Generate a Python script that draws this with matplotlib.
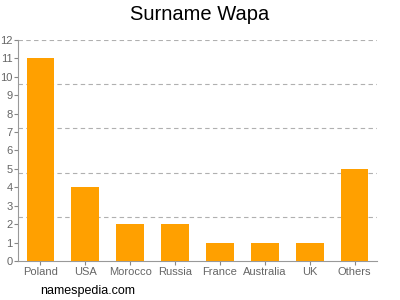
import matplotlib
matplotlib.use("Agg")
import matplotlib.pyplot as plt

categories = ["Poland", "USA", "Morocco", "Russia", "France", "Australia", "UK", "Others"]
values = [11, 4, 2, 2, 1, 1, 1, 5]
yticks = list(range(0, 13))
grid_levels = [2.4, 4.8, 7.2, 9.6, 12]

plt.rcParams['font.family'] = ['Liberation Sans', 'DejaVu Sans']
fig = plt.figure(figsize=(4, 3), dpi=100)
ax = fig.add_axes([0.045, 0.13, 0.8975, 0.7367])
x = list(range(len(categories)))
ax.bar(x, values, width=0.62, color="#FFA000", zorder=3)
for g in grid_levels:
    ax.axhline(g, color="#b0b0b0", linestyle=(0, (4, 3)), linewidth=0.8, zorder=1)
ax.set_xlim(-0.5, len(categories) - 0.5)
ax.set_ylim(0, 12)
ax.set_yticks(yticks)
ax.set_xticks(x)
ax.set_xticklabels(categories)
ax.tick_params(axis='both', colors="#888888", labelcolor="#666666", labelsize=8, length=3, width=0.8, pad=1)
for s in ["top", "right"]:
    ax.spines[s].set_visible(False)
for s in ["left", "bottom"]:
    ax.spines[s].set_color("#999999")
    ax.spines[s].set_linewidth(0.8)
fig.text(0.5, 0.95, "Surname Wapa", ha="center", va="center", fontsize=14.5)
fig.text(0.1, 0.03, "namespedia.com", ha="left", va="center", fontsize=9)
fig.savefig("out.png", dpi=100)
